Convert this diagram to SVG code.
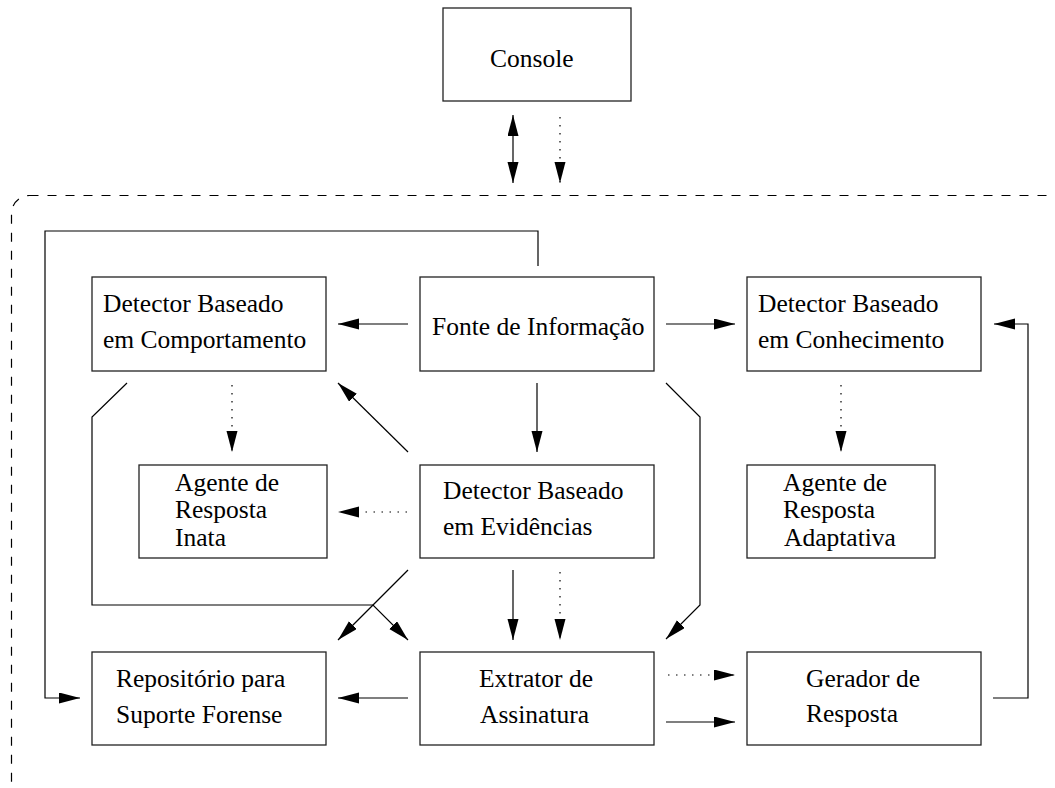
<svg xmlns="http://www.w3.org/2000/svg" width="1055" height="788" viewBox="0 0 1055 788">
<style>
.box{fill:#fff;stroke:#222;stroke-width:1.3}
.t{font-family:"Liberation Serif","Times New Roman",serif;font-size:25.5px;fill:#000}
.c{fill:none;stroke:#000;stroke-width:1.2}
.dot{stroke-dasharray:1.5 6.5}
.border{fill:none;stroke:#000;stroke-width:1.2;stroke-dasharray:9 9}
</style>
<defs>
<marker id="ah" markerUnits="userSpaceOnUse" markerWidth="22" markerHeight="12" refX="21" refY="5.5" orient="auto-start-reverse" viewBox="0 0 22 12">
<path d="M0,0 L21,5.5 L0,11 z" fill="#000"/>
</marker>
</defs>
<rect class="border" x="11.5" y="195.5" width="1070" height="612" rx="18"/>
<g id="console"><rect class="box" x="443" y="8" width="188" height="93"/><text class="t" x="490" y="67">Console</text></g>
<g id="comportamento"><rect class="box" x="92" y="277" width="234" height="94"/><text class="t" x="103" y="312">Detector Baseado</text><text class="t" x="103" y="348">em Comportamento</text></g>
<g id="fonte"><rect class="box" x="420" y="277" width="234" height="94"/><text class="t" x="432" y="335">Fonte de Informação</text></g>
<g id="conhecimento"><rect class="box" x="747" y="277" width="234" height="94"/><text class="t" x="758" y="312">Detector Baseado</text><text class="t" x="758" y="348">em Conhecimento</text></g>
<g id="inata"><rect class="box" x="139" y="465" width="188" height="93"/><text class="t" x="175" y="491">Agente de</text><text class="t" x="175" y="518">Resposta</text><text class="t" x="175" y="546">Inata</text></g>
<g id="evidencias"><rect class="box" x="420" y="465" width="234" height="93"/><text class="t" x="443" y="499">Detector Baseado</text><text class="t" x="443" y="535">em Evidências</text></g>
<g id="adaptativa"><rect class="box" x="747" y="465" width="188" height="93"/><text class="t" x="783" y="491">Agente de</text><text class="t" x="783" y="518">Resposta</text><text class="t" x="784" y="546">Adaptativa</text></g>
<g id="repositorio"><rect class="box" x="92" y="652" width="234" height="93"/><text class="t" x="116" y="687">Repositório para</text><text class="t" x="116" y="723">Suporte Forense</text></g>
<g id="extrator"><rect class="box" x="420" y="652" width="234" height="93"/><text class="t" x="479" y="687">Extrator de</text><text class="t" x="480" y="723">Assinatura</text></g>
<g id="gerador"><rect class="box" x="747" y="652" width="234" height="93"/><text class="t" x="806" y="687">Gerador de</text><text class="t" x="806" y="722">Resposta</text></g>
<g id="connectors">
<line class="c" x1="513" y1="115" x2="513" y2="183" marker-start="url(#ah)" marker-end="url(#ah)"/>
<line class="c dot" x1="560" y1="117" x2="560" y2="183" marker-end="url(#ah)"/>
<polyline class="c" points="538,266 538,231 45,231 45,698 80,698" marker-end="url(#ah)"/>
<line class="c" x1="408" y1="324" x2="338" y2="324" marker-end="url(#ah)"/>
<line class="c" x1="666" y1="324" x2="735" y2="324" marker-end="url(#ah)"/>
<line class="c" x1="537" y1="383" x2="537" y2="452" marker-end="url(#ah)"/>
<line class="c" x1="408" y1="452" x2="338" y2="383" marker-end="url(#ah)"/>
<polyline class="c" points="666,383 700,417 700,605 666,639" marker-end="url(#ah)"/>
<line class="c dot" x1="232" y1="385" x2="232" y2="452" marker-end="url(#ah)"/>
<line class="c dot" x1="841" y1="385" x2="841" y2="452" marker-end="url(#ah)"/>
<line class="c dot" x1="407" y1="512" x2="338" y2="512" marker-end="url(#ah)"/>
<polyline class="c" points="127,383 92,417 92,605 373,605 408,640" marker-end="url(#ah)"/>
<line class="c" x1="408" y1="570" x2="338" y2="640" marker-end="url(#ah)"/>
<line class="c" x1="513" y1="570" x2="513" y2="640" marker-end="url(#ah)"/>
<line class="c dot" x1="560" y1="572" x2="560" y2="640" marker-end="url(#ah)"/>
<line class="c" x1="408" y1="698" x2="338" y2="698" marker-end="url(#ah)"/>
<line class="c dot" x1="668" y1="675" x2="735" y2="675" marker-end="url(#ah)"/>
<line class="c" x1="666" y1="722" x2="735" y2="722" marker-end="url(#ah)"/>
<polyline class="c" points="993,698 1028,698 1028,324 994,324" marker-end="url(#ah)"/>
</g>
</svg>
